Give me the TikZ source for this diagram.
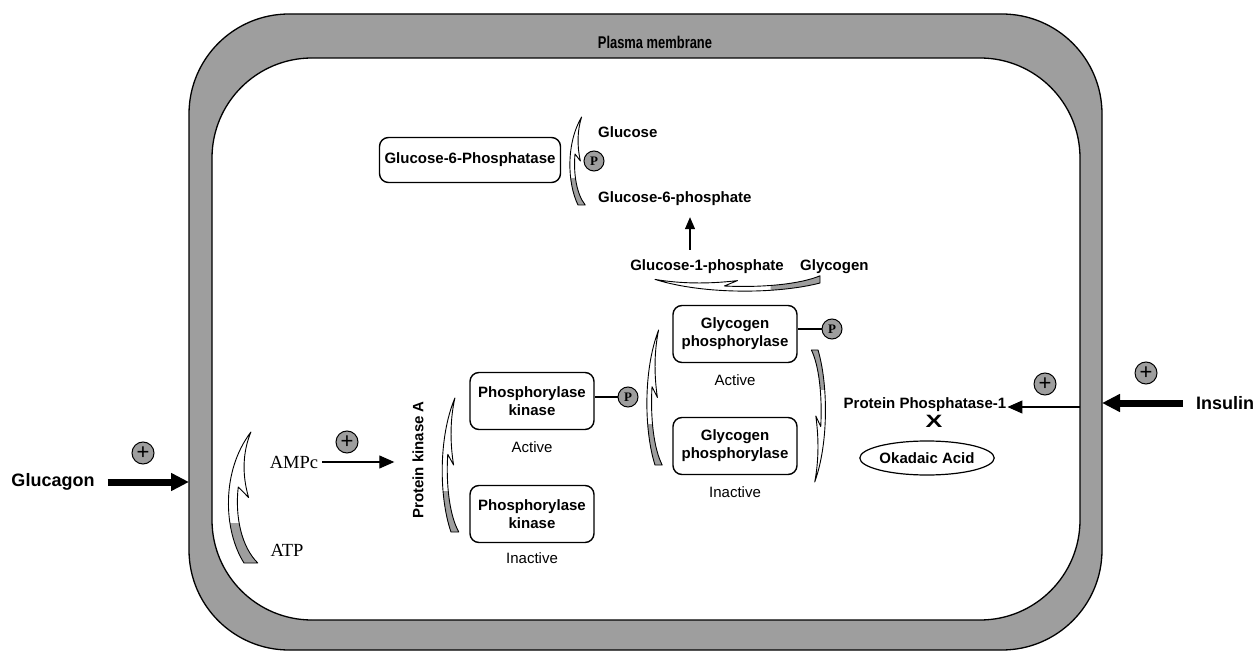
\documentclass[tikz,border=0pt]{standalone}
\usepackage{graphicx}
\usepackage{fontspec}
\setmainfont{Liberation Sans}
\newfontfamily\serfont{Liberation Serif}
\usetikzlibrary{shapes}
\usetikzlibrary{arrows.meta}
\definecolor{membranegray}{gray}{0.62}
\tikzstyle{enzyme} = [rectangle, draw=black, line width=1.4pt, rounded corners=9pt,
fill=white, align=center, minimum width=124pt, minimum height=57pt, inner sep=2pt,
font=\fontsize{15}{18}\selectfont\bfseries]
\tikzstyle{caption} = [inner sep=1pt, font=\fontsize{15}{18}\selectfont]
\tikzstyle{metab} = [inner sep=1pt, font=\fontsize{15}{18}\selectfont\bfseries]
\tikzstyle{nucl} = [inner sep=1pt, font=\fontsize{18.5}{20}\selectfont\serfont]
\tikzstyle{hormone} = [inner sep=1pt, font=\fontsize{18}{20}\selectfont\bfseries]
\tikzstyle{phos} = [circle, draw=black, line width=1pt, fill=membranegray,
minimum size=20pt, inner sep=0pt, font=\fontsize{13}{13}\selectfont\serfont\bfseries]
\tikzstyle{plus} = [circle, draw=black, line width=1pt, fill=membranegray,
minimum size=22pt, inner sep=0pt, font=\fontsize{22}{22}\selectfont]
\tikzstyle{signal} = [line width=1.2pt, -{Triangle[length=15pt,width=13pt]}]
\tikzstyle{hormonearrow} = [line width=7pt, -{Triangle[length=18pt,width=17pt]}]
% outline of a half-headed bent arrow: tail at (0,0), tip at (6,-100)
\newcommand{\bentshape}{(0,0) .. controls (-18,-25) and (-20,-70) .. (6,-100)
  .. controls (-1,-85) and (-2,-68) .. (4,-50) -- (-5,-58)
  .. controls (-8,-35) and (-2,-12) .. (12,0) -- cycle}
\newcommand{\bentarrow}[1]{ %
  % white head, grey tail
  \begin{scope}[#1]
    \fill[white] \bentshape;
    \begin{scope}
      \clip (-40,-30) rectangle (40,10);
      \fill[membranegray] \bentshape;
    \end{scope}
    \draw[line width=0.9pt, line join=round] \bentshape;
  \end{scope}
}

\begin{document}
\begin{tikzpicture}[x=1pt,y=-1pt]
\useasboundingbox (0,0) rectangle (1256,652);

% membrane
\filldraw[fill=membranegray, draw=black, line width=1.3pt, even odd rule,
  rounded corners=100pt] (189,14) rectangle (1102,650) (212,58) rectangle (1080,620);
\node[metab, font=\fontsize{17}{18}\selectfont\bfseries] (membrane) at (655,42)
  {\scalebox{0.76}[1]{Plasma membrane}};

% glucagon
\node[hormone] (glucagon) at (53,482) {Glucagon};
\coordinate (glucagonin) at (189,482);
\draw[hormonearrow, shorten <=12pt] (glucagon) -- (glucagonin);
\node[plus] (plusglucagon) at (143,453) {+};

% cAMP
\bentarrow{shift={(244,563)}, xscale=1.15, yscale=1.31}
\node[nucl] (ampc) at (294,462) {AMPc};
\node[nucl] (atp) at (287,550) {ATP};
\node[plus] (pluscamp) at (347,442) {+};
\node[metab, rotate=90] (pka) at (418,460) {Protein kinase A};
\draw[signal, shorten <=3pt, shorten >=17pt] (ampc) -- (ampc -| pka.north);

% phosphorylase kinase
\bentarrow{shift={(451,532)}, xscale=0.65, yscale=1.34}
\node[enzyme] (pkact) at (532,401) {Phosphorylase\\kinase};
\node[caption] (pkactlabel) at (532,447) {Active};
\node[enzyme] (pkinact) at (532,514) {Phosphorylase\\kinase};
\node[caption] (pkinactlabel) at (532,558) {Inactive};
\node[phos] (ppk) at (628,397) {P};
\draw[line width=1.2pt] (ppk) -- (ppk -| pkact.east);

% glycogen phosphorylase
\bentarrow{shift={(655,465)}, xscale=0.6, yscale=1.35}
\bentarrow{shift={(818,350)}, rotate=180, xscale=0.55, yscale=1.32}
\node[enzyme] (gpact) at (735,334) {Glycogen\\phosphorylase};
\node[caption] (gpactlabel) at (735,380) {Active};
\node[enzyme] (gpinact) at (735,446) {Glycogen\\phosphorylase};
\node[caption] (gpinactlabel) at (735,492) {Inactive};
\node[phos] (pgp) at (832,329) {P};
\draw[line width=1.2pt] (pgp) -- (pgp -| gpact.east);

% glycogen breakdown
\bentarrow{shift={(820,283)}, rotate=90, xscale=0.6, yscale=1.65}
\node[metab] (g1p) at (707,267) {Glucose-1-phosphate};
\node[metab, anchor=west] (glycogen) at (799,267) {Glycogen};
\bentarrow{shift={(578,205)}, xscale=0.6, yscale=0.88}
\node[enzyme, minimum width=181pt, minimum height=45pt] (g6pase) at (470,160)
  {Glucose-6-Phosphatase};
\node[phos] (pglc) at (594,161) {P};
\node[metab, anchor=west] (glucose) at (597,132) {Glucose};
\node[metab, anchor=west] (g6p) at (597,199) {Glucose-6-phosphate};
\coordinate (g1pup) at ([xshift=-17pt]g1p.north);
\draw[signal, -{Triangle[length=12pt,width=10pt]}, shorten <=9pt, shorten >=10pt]
  (g1pup) -- (g1pup |- g6p.south);

% insulin
\node[hormone, anchor=west] (insulin) at (1195,403) {Insulin};
\coordinate (insulinin) at (1102,403);
\draw[hormonearrow, shorten <=12pt] (insulin) -- (insulinin);
\node[plus] (plusinsulin) at (1146,373) {+};
\node[metab] (pp1) at (925,405) {Protein Phosphatase-1};
\coordinate (pp1in) at (1080,407);
\draw[signal] (pp1in) -- (pp1.east |- pp1in);
\node[plus] (pluspp1) at (1045,384) {+};
\node[metab, font=\fontsize{21}{21}\selectfont\bfseries, inner sep=0pt] (block)
  at (934,421) {\scalebox{1.2}[0.85]{X}};
\node[ellipse, draw=black, line width=1.2pt, minimum width=125pt, minimum height=34pt,
  inner sep=0pt, font=\fontsize{15}{18}\selectfont\bfseries] (okadaic) at (927,458)
  {Okadaic Acid};

\end{tikzpicture}
\end{document}
